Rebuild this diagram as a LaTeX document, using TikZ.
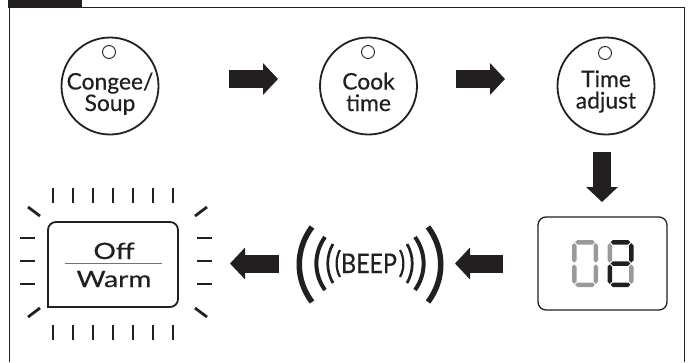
\documentclass[tikz,border=0pt]{standalone}
\usepackage{fontspec}
\setmainfont{Lato}[FakeBold=0.4]
\usetikzlibrary{arrows.meta,calc}
\definecolor{ink}{HTML}{231F20}
\definecolor{unlit}{HTML}{9A9A9A}
\newcommand{\segH}[2]{\fill[#1] (3.05,#2) -- (5.3,#2-2.25) -- (20.7,#2-2.25) -- (22.95,#2) -- (20.7,#2+2.25) -- (5.3,#2+2.25) -- cycle;}
\newcommand{\segV}[4]{\fill[#1] (#2,#3) -- (#2+2.25,#3+2.25) -- (#2+2.25,#4-2.25) -- (#2,#4) -- (#2-2.25,#4-2.25) -- (#2-2.25,#3+2.25) -- cycle;}
\tikzset{
  btn/.style={circle, draw=ink, line width=1.8pt, minimum size=97pt, inner sep=0pt},
  led/.style={circle, draw=ink, line width=0.9pt, minimum size=13pt, inner sep=0pt},
  lbl/.style={anchor=base, inner sep=0pt, text=ink, align=center, font=\fontsize{22.8}{21.5}\selectfont},
  wide/.style={anchor=base, inner sep=0pt, text=ink, font=\fontsize{22.5}{22}\selectfont},
  blockarrow/.style={draw=ink, line width=18pt, -{Triangle[width=31pt,length=15pt]}},
  tick/.style={draw=ink, line width=2.8pt},
  wave/.style={draw=ink},
}
\begin{document}
\begin{tikzpicture}[x=1pt,y=-1pt]
\useasboundingbox (0,0) rectangle (691,362);
% frame
\fill[ink] (8,0) rectangle (82,7.5);
\draw[ink, line width=1.5pt] (9.5,362) -- (9.5,7.5) -- (684.5,7.5) -- (684.5,362);

% buttons
\node[btn] (c1) at (110,86) {};
\node[led] (l1) at (109,52) {};
\node[lbl] (t1) at (110,111) {Congee/\\Soup};

\node[btn] (c2) at (368.5,86) {};
\node[led] (l2) at (368,52) {};
\node[lbl] (t2) at (368.5,111) {Cook\\time};

\node[btn] (c3) at (606,86) {};
\node[led] (l3) at (605,53) {};
\node[lbl] (t3) at (606,108.5) {Time\\adjust};

% arrows
\coordinate (a1s) at (229,79); \coordinate (a1e) at (278,79);
\coordinate (a2s) at (456,79); \coordinate (a2e) at (505,79);
\coordinate (a3s) at (602,152); \coordinate (a3e) at (602,202);
\coordinate (a4s) at (503,263.5); \coordinate (a4e) at (455,263.5);
\coordinate (a5s) at (279,263.5); \coordinate (a5e) at (230,263.5);
\draw[blockarrow] (a1s) -- (a1e);
\draw[blockarrow] (a2s) -- (a2e);
\draw[blockarrow] (a3s) -- (a3e);
\draw[blockarrow] (a4s) -- (a4e);
\draw[blockarrow] (a5s) -- (a5e);

% display
\node[draw=ink, line width=1.3pt, rounded corners=8pt, minimum width=129pt, minimum height=93pt, inner sep=0pt] (disp) at (602.5,263.5) {};
\begin{scope}[shift={(572,240)}]
  \segH{unlit}{2.25}
  \segH{unlit}{44.75}
  \segV{unlit}{2.25}{3.05}{22.7}
  \segV{unlit}{23.75}{3.05}{22.7}
  \segV{unlit}{2.25}{24.3}{43.95}
  \segV{unlit}{23.75}{24.3}{43.95}
\end{scope}
\begin{scope}[shift={(607.5,240)}]
  \segH{ink}{2.25}
  \segH{ink}{23.5}
  \segH{ink}{44.75}
  \segV{unlit}{2.25}{3.05}{22.7}
  \segV{ink}{23.75}{3.05}{22.7}
  \segV{ink}{2.25}{24.3}{43.95}
  \segV{unlit}{23.75}{24.3}{43.95}
\end{scope}

% beep
\node[anchor=base, inner sep=0pt, text=ink] (beep) at (369,273) {\scalebox{0.86}[1]{\fontsize{27}{27}\selectfont BEEP}};
\draw[wave, line width=5.5pt] (312,227) .. controls (295,249.5) and (295,279.5) .. (312,302);
\draw[wave, line width=4pt] (325,237) .. controls (313.5,253) and (313.5,274) .. (325,290);
\draw[wave, line width=2.7pt] (333,244) .. controls (326,255.7) and (326,271.3) .. (333,283);
\draw[wave, line width=2.2pt] (340,250) .. controls (335.5,258) and (335.5,269) .. (340,277);
\draw[wave, line width=5.5pt] (428,227) .. controls (445,249.5) and (445,279.5) .. (428,302);
\draw[wave, line width=4pt] (415,237) .. controls (426.5,253) and (426.5,274) .. (415,290);
\draw[wave, line width=2.7pt] (407,244) .. controls (414,255.7) and (414,271.3) .. (407,283);
\draw[wave, line width=2.2pt] (400,250) .. controls (404.5,258) and (404.5,269) .. (400,277);

% off / warm box
\draw[ink, line width=1.8pt, rounded corners=8pt] (48,307) -- (48,222) -- (178,222) -- (178,307) [sharp corners] -- cycle;
\node[wide] (off) at (114,259) {\scalebox{1.25}[1]{Off}};
\node[wide] (warm) at (114,287) {\scalebox{1.25}[1]{Warm}};
\draw[black!55, line width=0.9pt] (65,263.5) -- (162,263.5);
\foreach \x in {53,73,93,113,133,153,173} {
  \draw[tick] (\x,188) -- (\x,203);
  \draw[tick] (\x,325) -- (\x,340);
}
\foreach \y in {238,261,284} {
  \draw[tick] (20,\y) -- (35,\y);
  \draw[tick] (197,\y) -- (212,\y);
}
\draw[tick] (28,207) -- (40,216);
\draw[tick] (195,216) -- (207,207);
\draw[tick] (28,317) -- (40,308);
\draw[tick] (195,308) -- (207,317);
\end{tikzpicture}
\end{document}
